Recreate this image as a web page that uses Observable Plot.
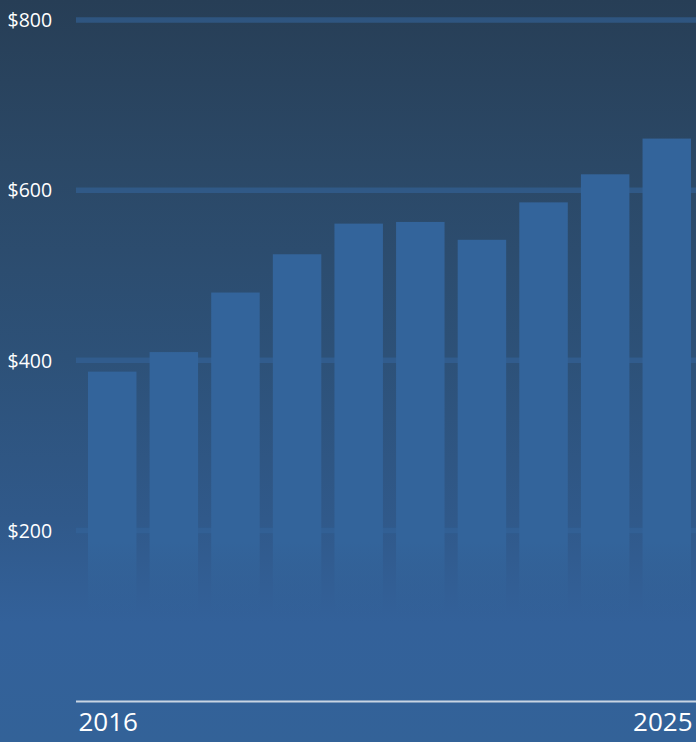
<!DOCTYPE html>
<html>
<head>
<meta charset="utf-8">
<script src="https://cdn.jsdelivr.net/npm/d3@7"></script>
<script src="https://cdn.jsdelivr.net/npm/@observablehq/plot@0.6"></script>
<style>
  html, body { margin: 0; padding: 0; background: #336298; }
  #chart svg { display: block; }
</style>
</head>
<body>
<div id="chart"></div>
<script>
const years = [2016, 2017, 2018, 2019, 2020, 2021, 2022, 2023, 2024, 2025];
const values = [386, 409, 479, 524, 560, 562, 541, 585, 618, 660];
const gridTicks = [200, 400, 600, 800];
const tickLabels = ["$200", "$400", "$600", "$800"];
const xLabels = [2016, 2025];

const data = years.map((y, i) => ({year: y, value: values[i]}));
const ticks = gridTicks.map((v, i) => ({value: v, label: tickLabels[i]}));

const chart = Plot.plot({
  width: 696,
  height: 742,
  marginTop: 0,
  marginLeft: 76,
  marginRight: 0,
  marginBottom: 42,
  style: {
    background: "linear-gradient(to bottom, #273e56 0%, #2b4866 22%, #2d5178 48%, #30598a 70%, #33619a 84%, #336298 100%)",
    fontFamily: "'Open Sans', sans-serif",
    color: "white",
    overflow: "visible"
  },
  x: {type: "band", domain: years, range: [81.4, 697.6], paddingInner: 0.2135, paddingOuter: 0.107, round: false, axis: null},
  y: {domain: [0, 800], range: [700, 19.5], axis: null},
  marks: [
    Plot.ruleY(gridTicks, {stroke: "#33649b", strokeOpacity: 0.6, strokeWidth: 5.5}),
    Plot.barY(data, {x: "year", y: "value", fill: "#33649b", className: "bars"}),
    Plot.ruleY([0], {stroke: "#c9d5e3", strokeWidth: 2, dy: 1}),
    Plot.text(ticks, {y: "value", text: "label", frameAnchor: "left", dx: -69, dy: 1, textAnchor: "start", fill: "white", fontSize: 19.5}),
    Plot.text(xLabels, {x: d => d, text: d => String(d), frameAnchor: "bottom", dy: 30, dx: -4.5, fill: "white", fontSize: 26})
  ]
});

// fade the bars into the background near the bottom
const svg = d3.select(chart);
const defs = svg.insert("defs", ":first-child");
const grad = defs.append("linearGradient")
  .attr("id", "barFade")
  .attr("gradientUnits", "userSpaceOnUse")
  .attr("x1", 0).attr("x2", 0).attr("y1", 0).attr("y2", 742);
[[0, 1], [0.73, 1], [0.83, 0]].forEach(([o, op]) => {
  grad.append("stop").attr("offset", o).attr("stop-color", "#33649b").attr("stop-opacity", op);
});
svg.selectAll(".bars rect").attr("fill", "url(#barFade)");

document.getElementById("chart").appendChild(chart);
</script>
</body>
</html>
